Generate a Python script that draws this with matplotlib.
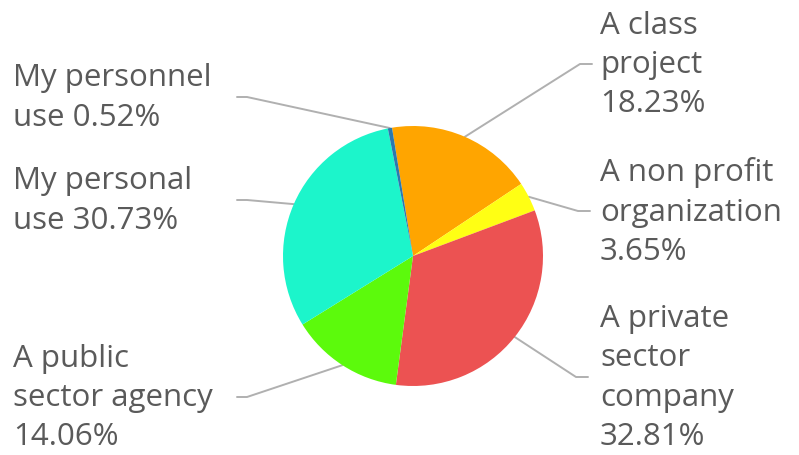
import numpy as np
import matplotlib.pyplot as plt

# Slices, clockwise starting just left of 12 o'clock
labels = ["A class\nproject", "A non profit\norganization", "A private\nsector\ncompany",
          "A public\nsector agency", "My personal\nuse", "My personnel\nuse"]
values = [18.23, 3.65, 32.81, 14.06, 30.73, 0.52]
colors = ["#FFA500", "#FFFF14", "#EC5252", "#5CFA0C", "#1CF5CB", "#2B78B0"]

# where each label's leader line ends (pixel coords in the 799x456 picture)
label_ends = [(592, 65), (590, 212), (588, 378), (237, 398), (237, 201), (237, 98)]
label_sides = ["right", "right", "right", "left", "left", "left"]

W, H = 799, 456
CX, CY, R = 413, 257, 130  # pie centre and radius in pixels


def px(x):
    return (x - CX) / R


def py(y):
    return (CY - y) / R


plt.rcParams['font.family'] = ['Open Sans', 'DejaVu Sans']

fig = plt.figure(figsize=(W / 100, H / 100), dpi=100)
ax = fig.add_axes([0, 0, 1, 1])

start = 99.3
wedges, _ = ax.pie(values, colors=colors, startangle=start, counterclock=False,
                   radius=1.0, center=(0, 0), wedgeprops=dict(linewidth=0))

ax.set_xlim(px(0), px(W))
ax.set_ylim(py(H), py(0))
ax.set_aspect('equal')
ax.axis('off')

line_col = "#b0b0b0"
text_col = "#5a5a5a"
for w, lab, val, (ex, ey), side in zip(wedges, labels, values, label_ends, label_sides):
    mid = np.deg2rad((w.theta1 + w.theta2) / 2)
    x0, y0 = np.cos(mid), np.sin(mid)
    if side == "right":
        elbow = (px(ex - 12), py(ey))
        tx = px(600)
    else:
        elbow = (px(ex + 10), py(ey))
        tx = px(13)
    ax.plot([x0, elbow[0], px(ex)], [y0, elbow[1], py(ey)], color=line_col, lw=1.4,
            solid_capstyle='round', zorder=0)
    if side == "left" and lab.endswith("use"):
        txt = f"{lab} {val:.2f}%"
    else:
        txt = f"{lab}\n{val:.2f}%"
    ax.text(tx, py(ey), txt, ha="left", va="center", fontsize=22.5, color=text_col,
            linespacing=1.4)

fig.savefig("out.png", dpi=100)
